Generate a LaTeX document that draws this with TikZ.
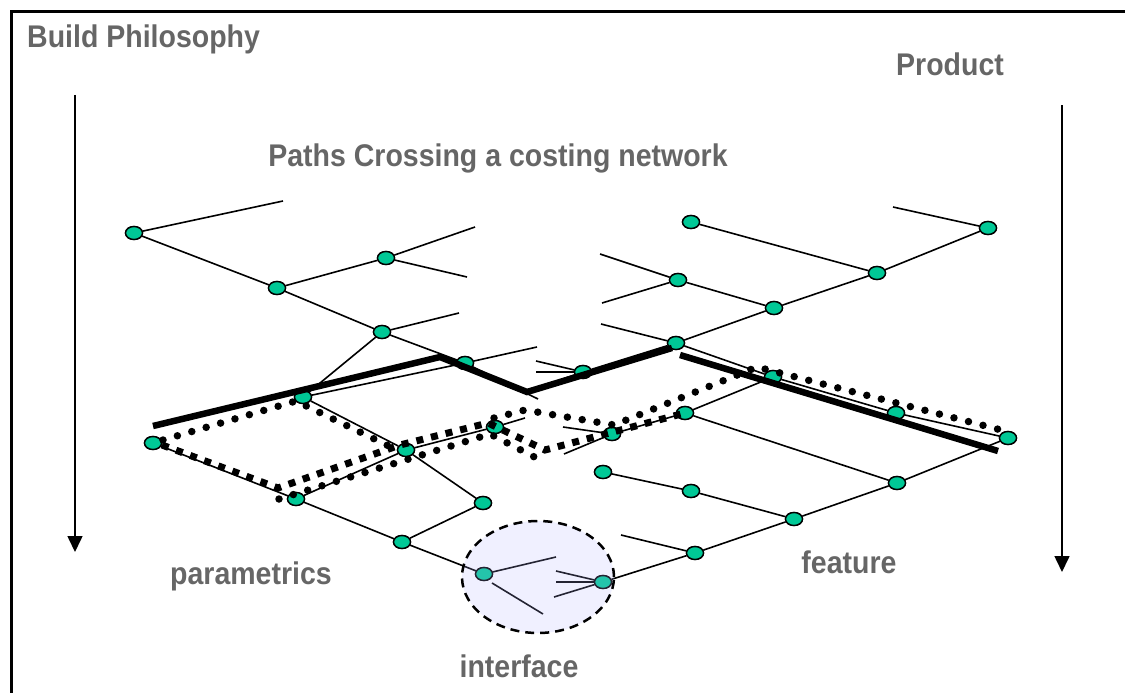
\documentclass[tikz,border=0pt]{standalone}
\usepackage{fontspec}
\setmainfont{Liberation Sans}
\usetikzlibrary{arrows.meta,shapes.geometric}
\definecolor{nodefill}{RGB}{0,200,150}
\definecolor{labelgrey}{RGB}{102,102,102}
\definecolor{haze}{RGB}{180,180,255}
\tikzset{
  pt/.style={ellipse,draw=black,line width=1.4pt,fill=nodefill,
    minimum width=17pt,minimum height=13pt,inner sep=0pt},
  edge/.style={line width=1.6pt},
  pathline/.style={line width=6.5pt},
  dotline/.style={line width=7.5pt,line cap=round,dash pattern=on 0pt off 15pt},
  squareline/.style={line width=7pt,dash pattern=on 7pt off 8pt},
  caption/.style={font=\bfseries\fontsize{28.5}{34}\selectfont,text=labelgrey,
    inner sep=0pt,anchor=base,yscale=1.1},
  axis/.style={line width=1.6pt,-{Triangle[width=15pt,length=16pt]}}
}
\begin{document}
\begin{tikzpicture}[x=1pt,y=-1pt]
\useasboundingbox (0,0) rectangle (1125,693);
% frame
\draw[line width=3.5pt] (1130,11.5) -- (11.5,11.5) -- (11.5,700);

% captions
\node[caption,anchor=base west] (tBuild) at (27,48) {Build Philosophy};
\node[caption] (tProd) at (950,76) {Product};
\node[caption] (tPaths) at (498,166) {Paths Crossing a costing network};
\node[caption] (tPar) at (251,584) {parametrics};
\node[caption] (tFeat) at (849,573) {feature};
\node[caption] (tInt) at (519,677) {interface};

% direction arrows
\coordinate (lTop) at (75,95);
\coordinate (lBot) at (75,552);
\coordinate (rTop) at (1062,105);
\coordinate (rBot) at (1062,572);
\draw[axis] (lTop) -- (lBot);
\draw[axis] (rTop) -- (rBot);

% network nodes
\node[pt] (a1) at (134,233) {};
\node[pt] (a2) at (277,288) {};
\node[pt] (a3) at (386,258) {};
\node[pt] (a4) at (382,332) {};
\node[pt] (a5) at (465,363) {};
\node[pt] (a6) at (303,397) {};
\node[pt] (b1) at (153,443) {};
\node[pt] (b2) at (296,499) {};
\node[pt] (b3) at (406,450) {};
\node[pt] (b4) at (483,503) {};
\node[pt] (b5) at (402,542) {};
\node[pt] (m2) at (495,427) {};
\node[pt] (r1) at (691,222) {};
\node[pt] (r2) at (988,228) {};
\node[pt] (r3) at (877,273) {};
\node[pt] (r4) at (678,280) {};
\node[pt] (r5) at (774,308) {};
\node[pt] (r6) at (676,343) {};
\node[pt] (m1) at (583,372) {};
\node[pt] (m3) at (612,434) {};
\node[pt] (r7) at (773,377) {};
\node[pt] (r8) at (896,413) {};
\node[pt] (r9) at (1008,438) {};
\node[pt] (r10) at (685,413) {};
\node[pt] (f1) at (603,472) {};
\node[pt] (f2) at (691,491) {};
\node[pt] (f3) at (794,519) {};
\node[pt] (f4) at (897,483) {};
\node[pt] (f5) at (695,553) {};
\node[pt] (i1) at (484,574) {};
\node[pt] (i2) at (603,582) {};

% loose branch ends
\coordinate (e1) at (283,201);
\coordinate (e2) at (475,227);
\coordinate (e3) at (467,277);
\coordinate (e4) at (459,313);
\coordinate (e5) at (537,347);
\coordinate (e6) at (538,399);
\coordinate (e7) at (893,207);
\coordinate (e8) at (600,254);
\coordinate (e9) at (602,303);
\coordinate (e10) at (601,324);
\coordinate (e11) at (536,361);
\coordinate (e12) at (536,372);
\coordinate (e13) at (534,389);
\coordinate (e14) at (525,418);
\coordinate (e15) at (563,427);
\coordinate (e16) at (564,454);
\coordinate (e17) at (621,535);
\coordinate (g1) at (556,557);
\coordinate (g2a) at (492,583);
\coordinate (g2b) at (543,614);
\coordinate (g3) at (556,571);
\coordinate (g4) at (556,582);
\coordinate (g5) at (554,597);

% branches
\begin{scope}[edge]
\draw (a1) -- (e1);
\draw (a1) -- (a2);
\draw (a2) -- (a3);
\draw (a3) -- (e2);
\draw (a3) -- (e3);
\draw (a2) -- (a4);
\draw (a4) -- (e4);
\draw (a4) -- (a5);
\draw (a5) -- (e6);
\draw (a5) -- (e5);
\draw (a4) -- (a6);
\draw (a6) -- (a5);
\draw (a6) -- (b3);
\draw (b1) -- (b2);
\draw (b2) -- (b3);
\draw (b3) -- (m2);
\draw (m2) -- (e14);
\draw (b3) -- (b4);
\draw (b2) -- (b5);
\draw (b5) -- (b4);
\draw (b5) -- (i1);
\draw (i1) -- (g1);
\draw (g2a) -- (g2b);
\draw (g3) -- (i2);
\draw (g4) -- (i2);
\draw (g5) -- (i2);
\draw (i2) -- (f5);
\draw (f5) -- (e17);
\draw (f5) -- (f3);
\draw (f3) -- (f2);
\draw (f2) -- (f1);
\draw (f3) -- (f4);
\draw (f4) -- (r9);
\draw (f4) -- (r10);
\draw (r10) -- (r7);
\draw (r10) -- (m3);
\draw (m3) -- (e16);
\draw (m3) -- (e15);
\draw (r6) -- (r7);
\draw (r7) -- (r8);
\draw (r8) -- (r9);
\draw (r6) -- (m1);
\draw (m1) -- (e13);
\draw (m1) -- (e11);
\draw (m1) -- (e12);
\draw (r6) -- (e10);
\draw (r6) -- (r5);
\draw (r5) -- (r4);
\draw (r4) -- (e8);
\draw (r4) -- (e9);
\draw (r5) -- (r3);
\draw (r3) -- (r1);
\draw (r3) -- (r2);
\draw (r2) -- (e7);
\end{scope}

% redraw nodes above their branches
\foreach \n in {a1,a2,a3,a4,a5,a6,b1,b2,b3,b4,b5,m2,r1,r2,r3,r4,r5,r6,m1,m3,r7,r8,r9,r10,f1,f2,f3,f4,f5,i1,i2}
  \node[pt] at (\n) {};

% bold route
\coordinate (t1) at (153,426);
\coordinate (t2) at (440,357);
\coordinate (t3) at (527,392);
\coordinate (t4) at (672,348);
\coordinate (t5) at (680,355);
\coordinate (t6) at (998,451);
\draw[pathline] (t1) -- (t2) -- (t3) -- (t4);
\draw[pathline] (t5) -- (t6);

% dotted routes
\coordinate (d1) at (163,440);
\coordinate (d2) at (296,401);
\coordinate (d3) at (395,449);
\draw[dotline] (d1) -- (d2) -- (d3);
\coordinate (d4) at (279,499);
\coordinate (d5) at (490,434);
\coordinate (d6) at (544,462);
\draw[dotline] (d4) -- (d5) -- (d6);
\coordinate (d7) at (494,418);
\coordinate (d8) at (525,410);
\coordinate (d9) at (614,425);
\coordinate (d10) at (757,367);
\coordinate (d11) at (1005,431);
\draw[dotline] (d7) -- (d8) -- (d9) -- (d10) -- (d11);

% square-dashed route
\coordinate (s1) at (162,445);
\coordinate (s2) at (278,488);
\coordinate (s3) at (400,445);
\coordinate (s4) at (488,423);
\coordinate (s5) at (545,450);
\coordinate (s6) at (685,413);
\draw[squareline] (s1) -- (s2) -- (s3) -- (s4) -- (s5) -- (s6);

% interface zone
\node[ellipse,minimum width=152pt,minimum height=112pt,inner sep=0pt,
  fill=haze,fill opacity=0.2] (zone) at (538,577) {};
\draw[line width=2.5pt,dash pattern=on 9pt off 6pt] (zone.center) ellipse [x radius=76pt,y radius=56pt];
\end{tikzpicture}
\end{document}
